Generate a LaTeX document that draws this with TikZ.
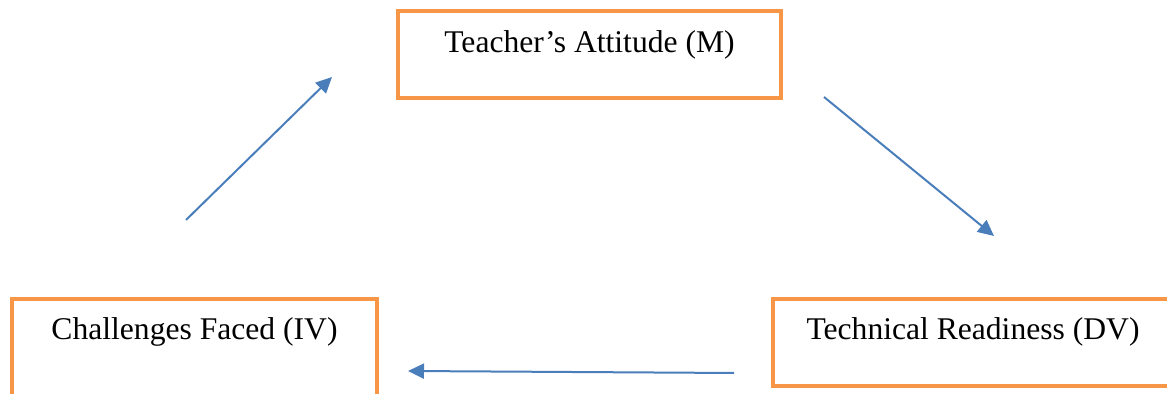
\documentclass[tikz,border=0pt]{standalone}
\usepackage{fontspec}
\setmainfont{Liberation Serif}
\usepackage{tikz}
\usetikzlibrary{arrows.meta, positioning, calc}
\definecolor{boxorange}{HTML}{F79646}
\definecolor{arrowblue}{HTML}{4A7EBB}

\begin{document}
\begin{tikzpicture}[
                x=0.5pt, y=0.5pt,
                varbox/.style={draw=boxorange, fill=white, line width=2pt, outer sep=0pt, anchor=north west, inner xsep=0pt, inner ysep=9.5pt, text height=11pt, text depth=13.5pt, font=\fontsize{15.8}{19}\selectfont},
                arr/.style={-{Triangle[length=8pt, width=7.5pt]}, line width=1pt, draw=arrowblue}
            ]
                \useasboundingbox (0,0) rectangle (1167,394);

                \node[varbox, minimum width=191.5pt] (att) at (398,382.5) {Teacher's Attitude (M)};
                \node[varbox, minimum width=182.5pt, text depth=30pt] (chal) at (12,95) {Challenges Faced (IV)};
                \node[varbox, minimum width=200pt] (tech) at (773,95) {Technical Readiness (DV)};

                \draw[arr] ($(chal.north)+(-8.5,79)$) -- ($(att.north west)+(-66,-65.5)$);
                \draw[arr] ($(att.north east)+(43,-85.5)$) -- ($(tech.north)+(21,63)$);
                \draw[arr] ($(tech.north west)+(-39,-74)$) -- ($(chal.north east)+(31,-72)$);
            \end{tikzpicture}
\end{document}
